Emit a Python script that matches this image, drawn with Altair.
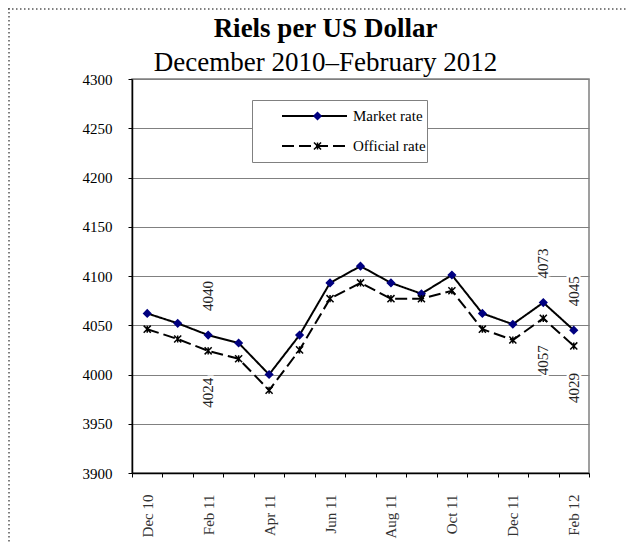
import json
import altair as alt
import pandas as pd

# ---------------- data ----------------
months = ["Dec 10", "Jan 11", "Feb 11", "Mar 11", "Apr 11", "May 11", "Jun 11",
          "Jul 11", "Aug 11", "Sep 11", "Oct 11", "Nov 11", "Dec 11", "Jan 12", "Feb 12"]
market = [4062, 4052, 4040, 4032, 4000, 4040, 4093, 4110, 4093, 4082, 4101, 4062, 4051, 4073, 4045]
official = [4046, 4036, 4024, 4016, 3984, 4025, 4077, 4093, 4077, 4077, 4085, 4046, 4035, 4057, 4029]
series_names = ["Market rate", "Official rate"]
y_ticks = [3900, 3950, 4000, 4050, 4100, 4150, 4200, 4250, 4300]
x_label_months = months[::2]
label_months = ["Feb 11", "Jan 12", "Feb 12"]

rows = []
for m, a, b in zip(months, market, official):
    rows.append({"month": m, "series": series_names[0], "series_pt": series_names[0], "value": a})
    rows.append({"month": m, "series": series_names[1], "series_pt": series_names[1], "value": b})
df = pd.DataFrame(rows)

lab = []
for m in label_months:
    i = months.index(m)
    lab.append({"month": m, "value": market[i], "kind": "above"})
    lab.append({"month": m, "value": official[i], "kind": "below"})
lab_df = pd.DataFrame(lab)

FONT = "Liberation Serif"
star_path = "M-1,-1L1,1M-1,1L1,-1M0,-1L0,1"

label_expr = "indexof(" + json.dumps(x_label_months) + ", datum.value) >= 0 ? datum.value : ''"

x_enc = alt.X(
    "month:N", sort=months,
    scale=alt.Scale(type="band", paddingInner=0, paddingOuter=0),
    axis=alt.Axis(title=None, labelAngle=270, labelExpr=label_expr, labelOverlap=False,
                  tickBand="extent", tickSize=4, tickColor="black", domainColor="black",
                  domainWidth=1.5, labelFont=FONT, labelFontSize=15, labelFontWeight="normal",
                  labelColor="#333333", labelPadding=17, grid=False),
)
y_enc = alt.Y(
    "value:Q",
    scale=alt.Scale(domain=[3900, 4300], nice=False, zero=False),
    axis=alt.Axis(title=None, values=y_ticks, format="d", grid=True, gridColor="#808080",
                  gridWidth=1, domainColor="black", domainWidth=1.5, tickColor="black",
                  tickSize=4, labelFont=FONT, labelFontSize=15, labelFontWeight="normal",
                  labelColor="black", labelPadding=16),
)

lines = alt.Chart(df).mark_line(color="black", strokeWidth=2).encode(
    x=x_enc, y=y_enc,
    strokeDash=alt.StrokeDash(
        "series:N",
        scale=alt.Scale(domain=series_names, range=[[1, 0], [12, 5]]),
        legend=alt.Legend(title=None, orient="none", legendX=120, legendY=21, direction="vertical",
                          symbolType="stroke", symbolSize=4225, symbolStrokeWidth=2,
                          symbolStrokeColor="black", clipHeight=30, rowPadding=0, padding=1,
                          symbolOffset=28, labelOffset=5, labelFont=FONT, labelFontSize=15,
                          labelColor="black", fillColor="white", strokeColor="#808080",
                          zindex=0),
    ),
)

points = alt.Chart(df).mark_point(opacity=1, size=50, strokeWidth=1.5).encode(
    x=x_enc, y=y_enc,
    shape=alt.Shape(
        "series_pt:N",
        scale=alt.Scale(range=["diamond", star_path]),
        legend=alt.Legend(title=None, orient="none", legendX=120, legendY=21, direction="vertical",
                          symbolSize=50, symbolStrokeWidth=1.5, clipHeight=30, rowPadding=0,
                          padding=1, symbolOffset=57, labelOffset=5, labelFont=FONT,
                          labelFontSize=15, labelExpr="''", zindex=1),
    ),
    fill=alt.Fill("series_pt:N", scale=alt.Scale(range=["#000080", "transparent"])),
    stroke=alt.Stroke("series_pt:N", scale=alt.Scale(range=["#000080", "black"])),
)

def label_layer(kind, halo):
    props = dict(angle=270, baseline="middle", font=FONT, fontSize=15,
                 align="left" if kind == "above" else "right",
                 yOffset=-24 if kind == "above" else 27)
    if halo:
        props.update(fill="white", stroke="white", strokeWidth=5)
    else:
        props.update(fill="#222222")
    return alt.Chart(lab_df).transform_filter(
        alt.datum.kind == kind
    ).mark_text(**props).encode(
        x=x_enc, y=y_enc,
        text=alt.Text("value:Q", format="d"),
    )

border_df = pd.DataFrame({"a": [0]})
left_border = alt.Chart(border_df).mark_rule(color="#555555", strokeDash=[1.5, 2.5], strokeWidth=1.5).encode(
    x=alt.value(-123), y=alt.value(-71), y2=alt.value(465))
top_border = alt.Chart(border_df).mark_rule(color="#555555", strokeDash=[1.5, 2.5], strokeWidth=1.5).encode(
    x=alt.value(-124), x2=alt.value(494), y=alt.value(-70))

chart = alt.layer(
    left_border, top_border,
    lines, points,
    label_layer("above", True), label_layer("below", True),
    label_layer("above", False), label_layer("below", False),
).properties(
    width=457, height=394,
    autosize=alt.AutoSizeParams(type="none"),
    padding={"left": 124, "top": 71, "right": 37, "bottom": 71},
    title=alt.TitleParams(text="Riels per US Dollar", subtitle="December 2010–February 2012",
                          font=FONT, fontSize=27, fontWeight="bold", color="black",
                          subtitleFont=FONT, subtitleFontSize=27, subtitleColor="black",
                          subtitlePadding=7, anchor="middle", dx=-35, dy=70, offset=0),
).configure_view(stroke="#808080", strokeWidth=1.5)

chart.save("out.html", embed_options={"renderer": "svg", "actions": False})
